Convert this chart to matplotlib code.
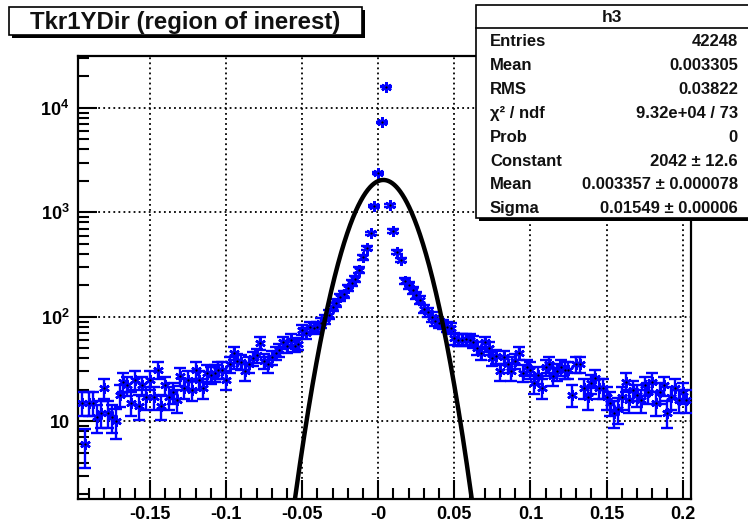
import numpy as np
import matplotlib
matplotlib.use("Agg")
import matplotlib.pyplot as plt
from matplotlib.patches import Rectangle
from matplotlib.ticker import MultipleLocator, FixedLocator, NullFormatter

plt.rcParams["font.family"] = ["Liberation Sans", "DejaVu Sans"]
plt.rcParams["font.weight"] = "bold"
plt.rcParams["mathtext.fontset"] = "custom"
plt.rcParams["mathtext.rm"] = "Liberation Sans:bold"
plt.rcParams["mathtext.bf"] = "Liberation Sans:bold"
plt.rcParams["mathtext.it"] = "Liberation Sans:bold:italic"

# ---- histogram h3: Tkr1YDir, 0.0025 wide bins ----
hist_lo = -0.19625
bin_width = 0.0025
counts = [
    15, 6, 15, 15, 11, 12, 21, 12, 11, 10,
    18, 24, 22, 15, 25, 14, 22, 17, 25, 17,
    31, 14, 22, 17, 19, 16, 27, 21, 25, 20,
    31, 25, 21, 29, 28, 29, 31, 31, 25, 35,
    45, 38, 37, 30, 35, 40, 43, 56, 38, 35,
    41, 45, 48, 57, 52, 60, 53, 55, 75, 70,
    80, 78, 80, 88, 95, 105, 124, 135, 154, 165,
    190, 213, 230, 280, 370, 460, 630, 1150, 2400, 7300,
    16000, 1170, 660, 420, 350, 220, 200, 180, 160, 145,
    120, 110, 100, 92, 87, 85, 80, 78, 62, 60,
    60, 61, 60, 58, 50, 45, 57, 50, 40, 42,
    30, 41, 35, 30, 38, 45, 29, 33, 31, 23,
    28, 21, 33, 35, 27, 30, 33, 31, 31, 18,
    35, 35, 21, 17, 23, 26, 21, 21, 17, 15,
    12, 13, 17, 24, 16, 20, 18, 16, 22, 19,
    24, 15, 19, 22, 12, 17, 21, 16, 19, 16,
]

# Gaussian fit parameters
fit_const = 2042.0
fit_mean = 0.003357
fit_sigma = 0.01549

# Statistics box contents
stats_title = "h3"
stats_rows = [
    ("Entries", "42248"),
    ("Mean", "0.003305"),
    ("RMS", "0.03822"),
    ("\u03c7\u00b2 / ndf", "9.32e+04 / 73"),
    ("Prob", "0"),
    ("Constant", "2042 \u00b1 12.6"),
    ("Mean", "0.003357 \u00b1 0.000078"),
    ("Sigma", "0.01549 \u00b1 0.00006"),
]

title_text = "Tkr1YDir (region of inerest)"
x_ticks = [-0.15, -0.1, -0.05, 0.0, 0.05, 0.1, 0.15, 0.2]
x_ticklabels = ["-0.15", "-0.1", "-0.05", "-0", "0.05", "0.1", "0.15", "0.2"]
y_ticks = [10, 100, 1000, 10000]
y_ticklabels = ["10", r"$10^{2}$", r"$10^{3}$", r"$10^{4}$"]

W, H = 748, 526
fig = plt.figure(figsize=(W / 100, H / 100), dpi=100)
fig.patch.set_facecolor("white")

# main frame in pixel geometry
L, R, T, B = 78, 690.7, 56, 499.3
ax = fig.add_axes([L / W, 1 - B / H, (R - L) / W, (B - T) / H])
ax.set_yscale("log")
ax.set_xlim(-0.1973, 0.2053)
ax.set_ylim(1.79, 31400)

counts_arr = np.asarray(counts, dtype=float)
centers = hist_lo + (np.arange(len(counts_arr)) + 0.5) * bin_width
errs = np.sqrt(counts_arr)
blue = "#0000ff"

ax.errorbar(centers, counts_arr, xerr=bin_width / 2, fmt="none",
            ecolor=blue, elinewidth=1.7, capsize=0, zorder=3)
ax.errorbar(centers, counts_arr, yerr=errs, fmt="none",
            ecolor=blue, elinewidth=1.7, capsize=4.5, capthick=1.7, zorder=3)
ax.plot(centers, counts_arr, linestyle="none", marker=(6, 2, 0),
        markersize=7.5, markeredgewidth=1.8, color=blue, zorder=4)
ax.plot(centers, counts_arr, linestyle="none", marker="o",
        markersize=1.6, color="black", markeredgewidth=0, zorder=5)

# fitted Gaussian
xf = np.linspace(-0.1, 0.1, 800)
yf = fit_const * np.exp(-0.5 * ((xf - fit_mean) / fit_sigma) ** 2)
ax.plot(xf, yf, color="black", linewidth=3.2, zorder=6)

# axes styling
ax.set_xticks(x_ticks)
ax.set_xticklabels(x_ticklabels)
ax.xaxis.set_minor_locator(MultipleLocator(0.01))
ax.yaxis.set_major_locator(FixedLocator(y_ticks))
ax.set_yticklabels(y_ticklabels)
minor_y = [m * 10 ** e for e in range(0, 5) for m in range(2, 10)]
ax.yaxis.set_minor_locator(FixedLocator(minor_y))
ax.yaxis.set_minor_formatter(NullFormatter())

ax.tick_params(which="major", direction="in", length=14, width=1.5,
               top=False, right=False, labelsize=13, pad=5)
ax.tick_params(which="minor", direction="in", length=8, width=1.5,
               top=False, right=False)
ax.tick_params(axis="y", which="major", pad=6)
for lab in ax.get_xticklabels() + ax.get_yticklabels():
    lab.set_fontweight("bold")
for sp in ax.spines.values():
    sp.set_linewidth(1.6)

ax.grid(True, which="major", color="black", linestyle=(0, (1, 1.8)),
        linewidth=1.3, zorder=1)
ax.set_axisbelow(True)

# overlay in pixel coordinates for the title and statistics boxes
ov = fig.add_axes([0, 0, 1, 1])
ov.set_xlim(0, W)
ov.set_ylim(H, 0)
ov.axis("off")
ov.patch.set_alpha(0)

# title box with shadow
tx, ty, tw, th = 9, 7, 353, 28
ov.add_patch(Rectangle((tx + 3, ty + 3), tw, th, facecolor="black",
                       edgecolor="black", linewidth=0))
ov.add_patch(Rectangle((tx, ty), tw, th, facecolor="white",
                       edgecolor="black", linewidth=1.2))
ov.text(tx + tw / 2, ty + th / 2 + 1, title_text, ha="center", va="center",
        fontsize=17.3, fontweight="bold", color="#111111")

# statistics box with shadow
sx, sy, sw, sh = 476, 5, 290, 213
ov.add_patch(Rectangle((sx + 3, sy + 3), sw, sh, facecolor="black",
                       edgecolor="black", linewidth=0))
ov.add_patch(Rectangle((sx, sy), sw, sh, facecolor="white",
                       edgecolor="black", linewidth=1.2))
ov.plot([sx, W], [28, 28], color="black", linewidth=1.2)
ov.text(612, 17, stats_title, ha="center", va="center",
        fontsize=12.5, fontweight="bold", color="#111111")
row_y0, row_dy = 42, 23.8
for i, (lab, val) in enumerate(stats_rows):
    yy = row_y0 + i * row_dy
    ov.text(490, yy, lab, ha="left", va="center", fontsize=12,
            fontweight="bold", color="#111111")
    ov.text(738, yy, val, ha="right", va="center", fontsize=12,
            fontweight="bold", color="#111111")

fig.savefig("out.png", dpi=100)
